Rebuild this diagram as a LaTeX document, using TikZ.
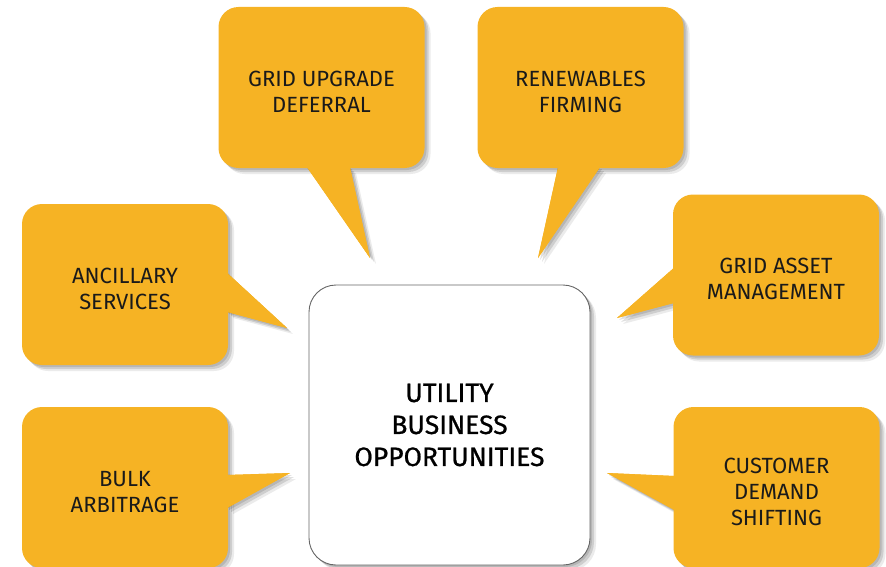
\documentclass[tikz,border=0pt]{standalone}
\usepackage{fontspec}
\setmainfont{Fira Sans}
\newfontfamily\hubfont[FakeBold=0.8]{Fira Sans}
\usetikzlibrary{positioning,shadows,backgrounds}

\definecolor{ylw}{HTML}{F6B324}
\definecolor{ink}{HTML}{1A1A1A}

% pushes the text of a callout a little down
\newcommand{\lowr}{\rule{0pt}{24pt}}

\tikzset{
  dropshade/.style={
    drop shadow={shadow xshift=2pt,shadow yshift=-2pt,fill=black,opacity=.12},
    drop shadow={shadow xshift=4pt,shadow yshift=-4pt,fill=black,opacity=.12},
    drop shadow={shadow xshift=6pt,shadow yshift=-6pt,fill=black,opacity=.08}},
  bubble/.style={fill=ylw,rounded corners=20pt,minimum width=206pt,minimum height=161pt,
    align=center,text=ink,font=\fontsize{22}{26}\selectfont,dropshade},
  tail/.style={fill=ylw},
  hub/.style={fill=white,draw=black!60,line width=0.9pt,rounded corners=27pt,
    minimum width=281pt,minimum height=280pt,align=center,font=\hubfont\fontsize{26.5}{32}\selectfont,dropshade}
}

% the tails of all six callouts
\newcommand{\calloutTails}{%
  \fill[tail] ([shift={(-14.5,-1)}]gud.south) -- (gudtip) -- ([shift={(28.5,-1)}]gud.south) -- cycle;
  \fill[tail] ([shift={(-22.5,-1)}]rnf.south) -- (rnftip) -- ([shift={(19.5,-1)}]rnf.south) -- cycle;
  \fill[tail] ([shift={(1,-7)}]gam.west) -- (gamtip) -- ([shift={(1,28)}]gam.west) -- cycle;
  \fill[tail] ([shift={(-1,-11.5)}]anc.east) -- (anctip) -- ([shift={(-1,27.5)}]anc.east) -- cycle;
  \fill[tail] ([shift={(-1,-12.5)}]blk.east) -- (blktip) -- ([shift={(-1,20.5)}]blk.east) -- cycle;
  \fill[tail] ([shift={(1,-11.5)}]cds.west) -- (cdstip) -- ([shift={(1,22.5)}]cds.west) -- cycle;
}

\begin{document}
\begin{tikzpicture}[x=1pt,y=-1pt]

\useasboundingbox (0,0) rectangle (886,567);

% Define the centre box
\node[hub] (util) at (449.5,425) {UTILITY\\BUSINESS\\OPPORTUNITIES};

% Define the callouts
\node[bubble] (gud) at (321.5,87.5) {\lowr GRID UPGRADE\\DEFERRAL};
\node[bubble] (rnf) at (580.5,87.5) {\lowr RENEWABLES\\FIRMING};
\node[bubble] (gam) at (776,275) {\lowr GRID ASSET\\MANAGEMENT};
\node[bubble] (anc) at (125,284.5) {\lowr ANCILLARY\\SERVICES};
\node[bubble] (blk) at (125,487.5) {\lowr BULK\\ARBITRAGE};
\node[bubble] (cds) at (776.5,487.5) {\lowr CUSTOMER\\DEMAND\\SHIFTING};

% Tips of the tails
\coordinate (gudtip) at (370,258);
\coordinate (rnftip) at (538,258);
\coordinate (gamtip) at (617,318);
\coordinate (anctip) at (287,328);
\coordinate (blktip) at (290,473);
\coordinate (cdstip) at (607,473);

% tails with their shadows behind the boxes
\begin{pgfonlayer}{background}
\begin{scope}[tail/.append style=dropshade]
\calloutTails
\end{scope}
\end{pgfonlayer}

% tails again on top
\calloutTails

\end{tikzpicture}
\end{document}
